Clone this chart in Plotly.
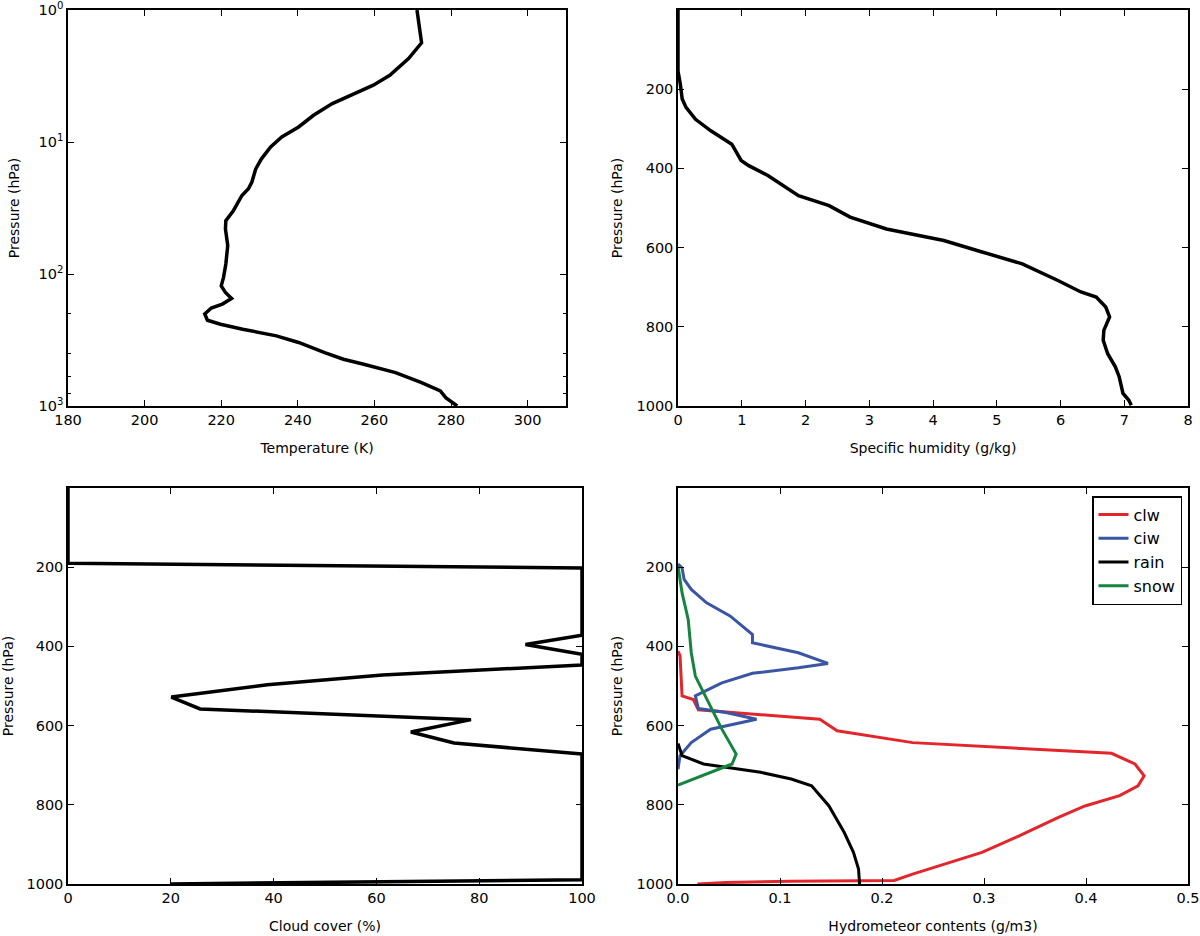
import plotly.graph_objects as go
from plotly.subplots import make_subplots

# temperature profile (K) vs pressure (hPa), log axis
temp_p = [1, 1.34, 1.77, 2.33, 3.12, 3.71, 4.3, 5.11, 6.27, 7.69, 9.16, 10.9, 13.4, 16.0,
          20.1, 22.6, 25.4, 33.0, 39.4, 45.5, 60.9, 84.0, 106, 123, 138, 153, 169, 181,
          201, 224, 240, 262, 294, 330, 394, 442, 483, 559, 666, 770, 864, 1000]
temp_k = [271.1, 271.8, 272.3, 268.9, 264.0, 259.7, 254.8, 249.0, 244.1, 240.2, 235.8, 232.9,
          230.5, 229.0, 228.0, 227.1, 225.4, 223.2, 221.2, 221.1, 221.7, 221.2, 220.6, 220.0,
          221.1, 222.7, 220.3, 217.4, 215.7, 216.4, 219.8, 225.6, 234.4, 240.2, 247.0, 251.9,
          257.2, 265.5, 272.3, 277.2, 278.6, 281.6]

# specific humidity (g/kg)
q_p = [0, 154, 187, 225, 246, 276, 305, 339, 380, 393, 418, 469, 494, 523, 553, 582, 611,
       641, 683, 712, 725, 750, 775, 809, 834, 868, 901, 926, 968, 985, 998]
q_val = [0, 0, 0.036, 0.066, 0.126, 0.275, 0.515, 0.844, 0.99, 1.11, 1.41, 1.89, 2.37, 2.70,
         3.27, 4.17, 4.77, 5.40, 5.96, 6.32, 6.56, 6.71, 6.77, 6.68, 6.67, 6.74, 6.86, 6.92,
         6.98, 7.07, 7.11]

# cloud cover (%)
cc_p = [1000, 997, 989, 672, 644, 616, 585, 558, 528, 497, 472, 447, 420, 395, 372, 202, 190, 0]
cc_val = [20, 40, 100, 100, 75.1, 66.7, 78.4, 25.7, 20.1, 38.8, 61.2, 100, 100, 89, 100, 100, 0, 0]

# hydrometeors (g/m3)
clw_p = [1000, 996, 993, 991, 975, 950, 920, 878, 832, 803, 777, 752, 727, 697, 670, 643,
         613, 584, 560, 534, 525, 424, 412]
clw = [0.019, 0.047, 0.11, 0.212, 0.23, 0.26, 0.298, 0.335, 0.373, 0.399, 0.433, 0.451, 0.457,
       0.448, 0.425, 0.23, 0.156, 0.139, 0.02, 0.015, 0.004, 0.002, 0.0]
ciw_p = [192, 202, 231, 256, 290, 323, 370, 391, 416, 443, 454, 468, 492, 525, 557, 567, 584,
         599, 609, 643, 676, 710]
ciw = [0, 0.004, 0.006, 0.013, 0.028, 0.051, 0.073, 0.073, 0.118, 0.147, 0.118, 0.073, 0.043,
       0.017, 0.02, 0.047, 0.077, 0.051, 0.032, 0.013, 0.002, 0]
rain_p = [645, 676, 697, 718, 735, 752, 803, 870, 920, 962, 1000]
rain = [0, 0.004, 0.025, 0.081, 0.111, 0.131, 0.148, 0.163, 0.172, 0.177, 0.178]
snow_p = [197, 265, 332, 416, 475, 542, 609, 672, 697, 750]
snow = [0, 0.004, 0.01, 0.013, 0.017, 0.03, 0.043, 0.057, 0.053, 0]

FONT = "DejaVu Sans"

fig = make_subplots(rows=2, cols=2)

fig.add_trace(go.Scatter(x=temp_k, y=temp_p, mode="lines", line=dict(color="black", width=3.5),
                         showlegend=False), row=1, col=1)
fig.add_trace(go.Scatter(x=q_val, y=q_p, mode="lines", line=dict(color="black", width=3.5),
                         showlegend=False), row=1, col=2)
fig.add_trace(go.Scatter(x=cc_val, y=cc_p, mode="lines", line=dict(color="black", width=3.5),
                         showlegend=False), row=2, col=1)

hydro = [("clw", clw, clw_p, "#e2262b"), ("ciw", ciw, ciw_p, "#3a55a4"),
         ("rain", rain, rain_p, "black"), ("snow", snow, snow_p, "#15843f")]
for name, xs, ys, col in hydro:
    fig.add_trace(go.Scatter(x=xs, y=ys, mode="lines", name=name, line=dict(color=col, width=3)),
                  row=2, col=2)

axis_style = dict(showline=True, linecolor="black", linewidth=1.5, mirror="allticks",
                  ticks="inside", ticklen=6, tickcolor="black", showgrid=False, zeroline=False,
                  automargin=False,
                  tickfont=dict(family=FONT, size=14.5, color="black"),
                  title_font=dict(family=FONT, size=14, color="black"))

W, H = 1200, 936
def xdom(a, b):
    return [a / W, b / W]
def ydom(top, bot):
    return [1 - bot / H, 1 - top / H]

fig.update_layout(
    xaxis=dict(axis_style, domain=xdom(68, 566), range=[180, 310], dtick=20,
               title=dict(text="Temperature (K)", standoff=16)),
    yaxis=dict(axis_style, domain=ydom(10, 406), type="log", range=[3, -0.0005],
               tickvals=[1, 10, 100, 1000],
               ticktext=["10<sup>0</sup>", "10<sup>1</sup>", "10<sup>2</sup>", "10<sup>3</sup>"],
               minor=dict(ticks="inside", ticklen=3, tickcolor="black", showgrid=False),
               title=dict(text="Pressure (hPa)", standoff=16)),
    xaxis2=dict(axis_style, domain=xdom(678, 1188), range=[0, 8], dtick=1,
                title=dict(text="Specific humidity (g/kg)", standoff=16)),
    yaxis2=dict(axis_style, domain=ydom(10, 406), range=[1000, 0],
                tickvals=[200, 400, 600, 800, 1000],
                title=dict(text="Pressure (hPa)", standoff=11)),
    xaxis3=dict(axis_style, domain=xdom(68, 582), range=[0, 100], dtick=20,
                title=dict(text="Cloud cover (%)", standoff=16)),
    yaxis3=dict(axis_style, domain=ydom(488, 884), range=[1000, 0],
                tickvals=[200, 400, 600, 800, 1000],
                title=dict(text="Pressure (hPa)", standoff=11)),
    xaxis4=dict(axis_style, domain=xdom(678, 1188), range=[0, 0.5], dtick=0.1, tickformat=".1f",
                title=dict(text="Hydrometeor contents (g/m3)", standoff=16)),
    yaxis4=dict(axis_style, domain=ydom(488, 884), range=[1000, 0],
                tickvals=[200, 400, 600, 800, 1000],
                title=dict(text="Pressure (hPa)", standoff=11)),
    legend=dict(x=1182 / W, xanchor="right", y=1 - 496 / H, yanchor="top",
                bordercolor="black", borderwidth=1.5, bgcolor="white", itemwidth=30,
                tracegroupgap=0,
                font=dict(family=FONT, size=16, color="black")),
    width=W, height=H,
    margin=dict(l=0, r=0, t=0, b=0),
    plot_bgcolor="white", paper_bgcolor="white",
    font=dict(family=FONT, color="black"),
)

# page body has a default 8px margin; drop it so the figure sits at the window origin
fig.write_html("out.html", config={"displayModeBar": False},
               post_script="document.body.style.margin='0';")
